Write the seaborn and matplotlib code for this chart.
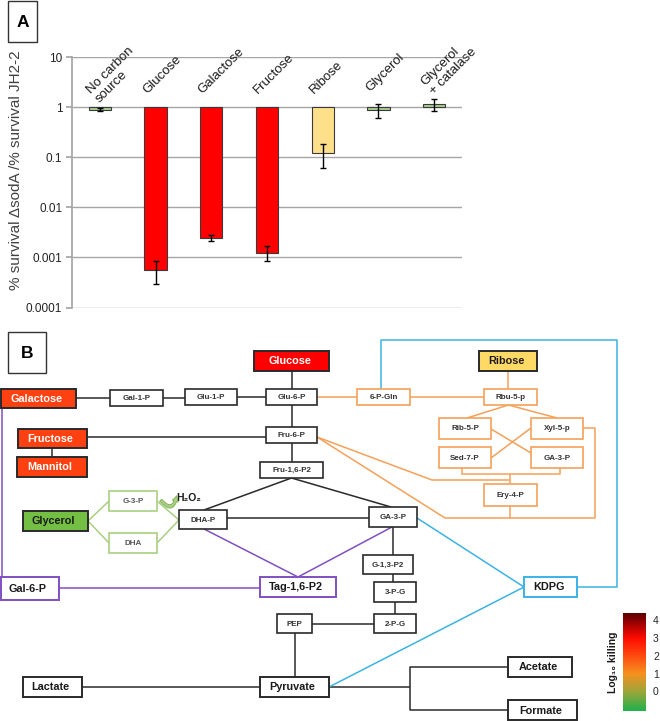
import numpy as np
import pandas as pd
import seaborn as sns
import matplotlib
matplotlib.use("Agg")
import matplotlib.pyplot as plt
from matplotlib.patches import Rectangle, FancyArrowPatch
from matplotlib.colors import LinearSegmentedColormap, Normalize
from matplotlib.cm import ScalarMappable
import matplotlib.transforms as mtransforms

# ---------------- data (panel A) ----------------
categories = ["No carbon\nsource", "Glucose", "Galactose", "Fructose",
              "Ribose", "Glycerol", "Glycerol\n+ catalase"]
survival = [0.88, 0.00057, 0.00244, 0.00122, 0.122, 0.88, 1.13]
err_low = [0.84, 0.00029, 0.00215, 0.00083, 0.062, 0.61, 0.82]
err_high = [0.95, 0.00085, 0.0028, 0.00166, 0.185, 1.13, 1.47]
bar_colors = ["#a9d18e", "#ff0000", "#ff0000", "#ff0000",
              "#ffe08a", "#a9d18e", "#a9d18e"]
ytick_values = [0.0001, 0.001, 0.01, 0.1, 1, 10]
ytick_labels = ["0.0001", "0.001", "0.01", "0.1", "1", "10"]

# ---------------- data (panel B, pathway) ----------------
# name, label, cx, cy, w, h, fill, edge, text colour, big
nodes = [
    ("glc", "Glucose", 291.5, 361, 75, 20, "#ff0000", "#2a2a2a", "white", True),
    ("gal", "Galactose", 38.5, 398.5, 75, 19, "#ff4010", "#2a2a2a", "white", True),
    ("fru", "Fructose", 52.5, 438.5, 69, 19, "#ff4010", "#2a2a2a", "white", True),
    ("man", "Mannitol", 52, 467, 70, 20, "#ff4010", "#2a2a2a", "white", True),
    ("rib", "Ribose", 508, 361, 58, 20, "#ffd966", "#2a2a2a", "#1a1a1a", True),
    ("gly", "Glycerol", 55.5, 521, 65, 20, "#72bf44", "#2a2a2a", "#1a1a1a", True),
    ("g6p", "Gal-6-P", 29.5, 588.5, 58, 23, "white", "#8050c0", "#1a1a1a", True),
    ("tag", "Tag-1,6-P2", 298, 587, 76, 20, "white", "#8050c0", "#1a1a1a", True),
    ("kdpg", "KDPG", 550.5, 587, 53, 20, "white", "#3bb3e4", "#1a1a1a", True),
    ("lac", "Lactate", 52.5, 687, 59, 20, "white", "#2a2a2a", "#1a1a1a", True),
    ("pyr", "Pyruvate", 294.5, 687, 69, 20, "white", "#2a2a2a", "#1a1a1a", True),
    ("ace", "Acetate", 540, 667, 64, 20, "white", "#2a2a2a", "#1a1a1a", True),
    ("for", "Formate", 542.5, 710, 69, 20, "white", "#2a2a2a", "#1a1a1a", True),
    ("gal1p", "Gal-1-P", 136.5, 398, 53, 16, "white", "#2a2a2a", "#333333", False),
    ("glu1p", "Glu-1-P", 211, 397, 52, 16, "white", "#2a2a2a", "#333333", False),
    ("glu6p", "Glu-6-P", 291.5, 397, 51, 16, "white", "#2a2a2a", "#333333", False),
    ("fru6p", "Fru-6-P", 291.5, 435, 51, 16, "white", "#2a2a2a", "#333333", False),
    ("fbp", "Fru-1,6-P2", 291.5, 470, 63, 16, "white", "#2a2a2a", "#333333", False),
    ("g3p", "G-3-P", 133, 501, 48, 20, "white", "#a8cf82", "#555555", False),
    ("dha", "DHA", 133, 543, 48, 20, "white", "#a8cf82", "#555555", False),
    ("dhap", "DHA-P", 203, 519.5, 48, 19, "white", "#2a2a2a", "#333333", False),
    ("ga3p", "GA-3-P", 393, 517, 48, 20, "white", "#2a2a2a", "#333333", False),
    ("g13p2", "G-1,3-P2", 388, 564.5, 50, 19, "white", "#2a2a2a", "#333333", False),
    ("3pg", "3-P-G", 395, 592, 42, 20, "white", "#2a2a2a", "#333333", False),
    ("2pg", "2-P-G", 395, 623.5, 42, 19, "white", "#2a2a2a", "#333333", False),
    ("pep", "PEP", 294.5, 623.5, 35, 19, "white", "#2a2a2a", "#333333", False),
    ("6pgln", "6-P-Gln", 383.5, 397, 53, 16, "white", "#f5a05a", "#333333", False),
    ("rbu5p", "Rbu-5-p", 510.5, 397, 53, 16, "white", "#f5a05a", "#333333", False),
    ("rib5p", "Rib-5-P", 465, 428.5, 52, 21, "white", "#f5a05a", "#333333", False),
    ("xyl5p", "Xyl-5-p", 557, 428.5, 52, 21, "white", "#f5a05a", "#333333", False),
    ("sed7p", "Sed-7-P", 465, 457.5, 52, 21, "white", "#f5a05a", "#333333", False),
    ("ga3po", "GA-3-P", 557, 457.5, 52, 21, "white", "#f5a05a", "#333333", False),
    ("ery4p", "Ery-4-P", 510.5, 495, 53, 22, "white", "#f5a05a", "#333333", False),
]

black_links = [
    [(291.5, 371), (291.5, 389)], [(76, 398), (110, 398)],
    [(163, 397.5), (185, 397.5)], [(237, 397), (266, 397)],
    [(291.5, 405), (291.5, 427)], [(87, 437), (266, 437)],
    [(52, 448), (52, 457)], [(291.5, 443), (291.5, 462)],
    [(204, 510), (291.5, 478), (391, 507)], [(227, 518), (369, 518)],
    [(393, 527), (393, 555)], [(393, 574), (393, 582)],
    [(395, 602), (395, 614)], [(374, 623.5), (312, 623.5)],
    [(294.5, 633), (294.5, 677)], [(82, 687), (260, 687)],
    [(329, 687), (410, 687)], [(508, 667), (410, 667), (410, 710), (508, 710)],
]
purple_links = [
    [(2, 408), (2, 577)], [(59, 588), (260, 588)],
    [(204, 529), (298, 577), (392, 527)],
]
green_links = [
    [(109, 501), (88, 521), (109, 543)],
    [(157, 501), (179, 520), (157, 543)],
]
orange_links = [
    [(317, 397), (357, 397)], [(410, 397), (484, 397)],
    [(508, 371), (508, 389)],
    [(467, 418), (508.5, 405), (557, 418)],
    [(491, 429), (531, 453)], [(491, 458), (531, 428)],
    [(462, 468), (462, 474), (560, 474), (560, 468)],
    [(510, 474), (510, 484)],
    [(317, 437), (432, 480), (510, 480)],
    [(317, 437), (445, 518), (595, 518), (595, 428), (583, 428)],
    [(510, 506), (510, 518)],
]
blue_links = [
    [(381, 389), (381, 340), (617, 340), (617, 587), (577, 587)],
    [(417, 518), (524, 587), (329, 687)],
]

cbar_ticks = [0, 1, 2, 3, 4]
cbar_stops = [(-1.1, "#1fb04c"), (0, "#9ea53a"), (1, "#f5901e"), (2, "#ff4a10"),
              (3, "#ff0a00"), (4, "#8a0000"), (4.4, "#5c0000")]

# ---------------- figure ----------------
sns.set_theme(style="white")
plt.rcParams["font.family"] = ["Liberation Sans", "DejaVu Sans"]

W, H = 660, 721
fig = plt.figure(figsize=(W / 100, H / 100), dpi=100)
fig.patch.set_facecolor("white")

# Panel B / decorations drawn in pixel coordinates
axb = fig.add_axes([0, 0, 1, 1])
axb.set_xlim(0, W)
axb.set_ylim(H, 0)
axb.axis("off")

# Panel A
left, right, top, bottom = 72, 462, 57, 307.5
axa = fig.add_axes([left / W, 1 - bottom / H, (right - left) / W, (bottom - top) / H])
df = pd.DataFrame({"cat": categories, "logv": np.log10(survival)})
sns.barplot(data=df, x="cat", y="logv", hue="cat", palette=bar_colors,
            saturation=1, legend=False, width=0.4, edgecolor="#3a3a3a",
            linewidth=0.8, errorbar=None, ax=axa, zorder=3)
logv = np.log10(survival)
yerr = np.vstack([logv - np.log10(err_low), np.log10(err_high) - logv])
axa.errorbar(np.arange(len(categories)), logv, yerr=yerr, fmt="none",
             ecolor="black", elinewidth=1.0, capsize=2.3, capthick=1.0, zorder=4)
axa.set_ylim(-4, 1)
axa.set_xlim(-0.5, len(categories) - 0.5)
axa.set_yticks(np.log10(ytick_values))
axa.set_yticklabels(ytick_labels, fontsize=8.5, color="#222222")
axa.set_xticks([])
axa.set_xlabel("")
axa.set_ylabel("")
for yv in np.log10(ytick_values):
    axa.axhline(yv, color="#a6a6a6", lw=1.0, zorder=1)
for s in ["top", "right", "bottom"]:
    axa.spines[s].set_visible(False)
axa.spines["left"].set_color("#a6a6a6")
axa.tick_params(axis="y", left=True, length=4, color="#a6a6a6", pad=3)
axa.set_facecolor("none")

fig.text(16 / W, 1 - 170 / H, "% survival \u0394sodA /% survival JH2-2",
         rotation=90, ha="center", va="center", fontsize=11, color="#404040")

for i, lab in enumerate(categories):
    ybase = max(0.0, np.log10(err_high[i]))
    tr = mtransforms.offset_copy(axa.transData, fig=fig, x=-15, y=19, units="dots")
    axa.text(i, ybase, lab, transform=tr, rotation=45, rotation_mode="anchor",
             ha="left", va="top", fontsize=9.5, color="#1a1a1a",
             linespacing=1.05, clip_on=False)

# Panel labels
for lab, (x0, y0, x1, y1) in [("A", (8, 1, 37, 42)), ("B", (8, 332, 46, 373))]:
    axb.add_patch(Rectangle((x0, y0), x1 - x0, y1 - y0, fill=False,
                            ec="#333333", lw=1.0))
    axb.text((x0 + x1) / 2, (y0 + y1) / 2 + 1, lab, ha="center", va="center",
             fontsize=12.5, fontweight="bold", color="black")

# Links
def draw_links(links, color, lw=1.1):
    for pts in links:
        xs, ys = zip(*pts)
        axb.plot(xs, ys, color=color, lw=lw, solid_capstyle="butt", zorder=1)

draw_links(black_links, "#2a2a2a")
draw_links(purple_links, "#8050c0")
draw_links(green_links, "#a8cf82")
draw_links(orange_links, "#f5a05a")
draw_links(blue_links, "#3bb3e4")

# Nodes
for key, lab, cx, cy, w, h, fc, ec, tc, big in nodes:
    axb.add_patch(Rectangle((cx - w / 2, cy - h / 2), w, h, fc=fc, ec=ec,
                            lw=1.4 if big else 1.2, zorder=3))
    axb.text(cx - (2 if big else 0), cy + 0.5, lab, ha="center", va="center",
             fontsize=7.8 if big else 5.8, fontweight="bold", color=tc, zorder=4)

# H2O2 and arrow
axb.text(176, 498, "H\u2082O\u2082", fontsize=7.5, fontweight="bold",
         ha="left", va="center", color="#1a1a1a", zorder=5)
axb.add_patch(FancyArrowPatch((159, 498), (177, 493),
                              connectionstyle="arc3,rad=1.2",
                              arrowstyle="simple,head_width=4.5,head_length=4,tail_width=2",
                              fc="#a8cf82", ec="#7fae55", lw=0.6, zorder=5))

# Colorbar
vals, cols = zip(*cbar_stops)
vmin, vmax = vals[0], vals[-1]
pos = [(v - vmin) / (vmax - vmin) for v in vals]
cmap = LinearSegmentedColormap.from_list("kill", list(zip(pos, cols)))
cax = fig.add_axes([623 / W, 1 - 711 / H, 23 / W, 98 / H])
cb = fig.colorbar(ScalarMappable(norm=Normalize(vmin, vmax), cmap=cmap), cax=cax)
cb.outline.set_visible(False)
cb.set_ticks(cbar_ticks)
cb.ax.tick_params(length=0, labelsize=7.5, pad=5)
fig.text(613 / W, 1 - 662 / H, "Log\u2081\u2080 killing", rotation=90,
         ha="center", va="center", fontsize=7.5, fontweight="bold", color="#1a1a1a")

fig.savefig("out.png", dpi=100)
